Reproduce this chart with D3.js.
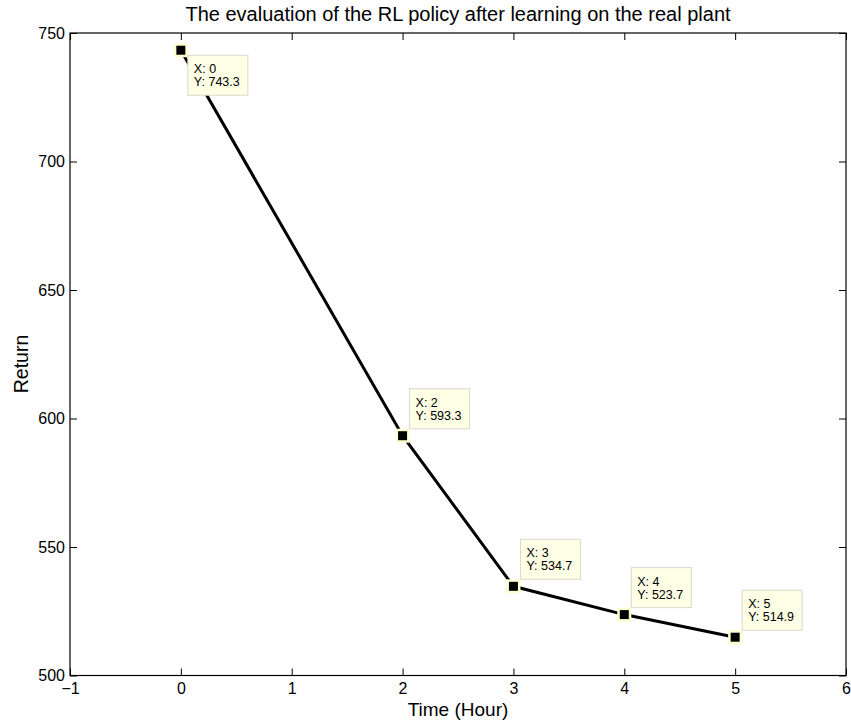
<!DOCTYPE html>
<html>
<head>
<meta charset="utf-8">
<script src="https://cdn.jsdelivr.net/npm/d3@7"></script>
<style>
  body { margin: 0; background: #fff; }
  svg text { font-family: "Liberation Sans", Arial, sans-serif; }
</style>
</head>
<body>
<div id="chart"></div>
<script>
// data
const hours = [0, 2, 3, 4, 5];
const returns = [743.3, 593.3, 534.7, 523.7, 514.9];
// datatip placement: +1 = below the point, -1 = above it
const tipSide = [1, -1, -1, -1, -1];
const xTicks = [-1, 0, 1, 2, 3, 4, 5, 6];
const yTicks = [500, 550, 600, 650, 700, 750];

const width = 851, height = 724;
const margin = { top: 33, right: 5, bottom: 48.5, left: 70 };

const svg = d3.select("#chart").append("svg")
    .attr("width", width)
    .attr("height", height)

const x = d3.scaleLinear().domain([-1, 6]).range([margin.left, width - margin.right]);
const y = d3.scaleLinear().domain([500, 750]).range([height - margin.bottom, margin.top]);

const tick = 7;
const tickFont = 16;

// frame
svg.append("rect")
    .attr("x", x(-1)).attr("y", y(750))
    .attr("width", x(6) - x(-1)).attr("height", y(500) - y(750))
    .attr("fill", "none").attr("stroke", "#000").attr("stroke-width", 1.2)

// bottom + top axes (ticks point inward)
svg.append("g")
    .attr("transform", `translate(0,${y(500)})`)
    .call(d3.axisBottom(x).tickValues(xTicks).tickSize(-tick).tickPadding(7)
        .tickFormat(d => d < 0 ? "\u2212" + Math.abs(d) : d))
    .call(g => g.select(".domain").remove())
    .call(g => g.selectAll("text").attr("font-size", tickFont).attr("fill", "#000"))

svg.append("g")
    .attr("transform", `translate(0,${y(750)})`)
    .call(d3.axisTop(x).tickValues(xTicks).tickSize(-tick).tickFormat(""))
    .call(g => g.select(".domain").remove())

svg.append("g")
    .attr("transform", `translate(${x(-1)},0)`)
    .call(d3.axisLeft(y).tickValues(yTicks).tickSize(-tick).tickPadding(5))
    .call(g => g.select(".domain").remove())
    .call(g => g.selectAll("text").attr("font-size", tickFont).attr("fill", "#000"))

svg.append("g")
    .attr("transform", `translate(${x(6)},0)`)
    .call(d3.axisRight(y).tickValues(yTicks).tickSize(-tick).tickFormat(""))
    .call(g => g.select(".domain").remove())

// labels
svg.append("text")
    .attr("x", (x(-1) + x(6)) / 2).attr("y", 21)
    .attr("text-anchor", "middle").attr("font-size", 20)
    .text("The evaluation of the RL policy after learning on the real plant")

svg.append("text")
    .attr("x", (x(-1) + x(6)) / 2).attr("y", 716)
    .attr("text-anchor", "middle").attr("font-size", 19)
    .text("Time (Hour)")

svg.append("text")
    .attr("transform", `translate(28,364) rotate(-90)`)
    .attr("text-anchor", "middle").attr("font-size", 19.5)
    .text("Return")

// line
const pts = hours.map((h, i) => ({ h, r: returns[i], side: tipSide[i] }));
const line = d3.line().x(d => x(d.h)).y(d => y(d.r));

svg.append("path")
    .datum(pts)
    .attr("d", line)
    .attr("fill", "none").attr("stroke", "#000").attr("stroke-width", 3)

// markers with datatip halo
const marks = svg.append("g").selectAll("g").data(pts).join("g")
    .attr("transform", d => `translate(${x(d.h)},${y(d.r)})`)

marks.append("rect")
    .attr("x", -7).attr("y", -7).attr("width", 14).attr("height", 14)
    .attr("fill", "#ffffd0")
marks.append("rect")
    .attr("x", -4.5).attr("y", -4.5).attr("width", 9).attr("height", 9)
    .attr("fill", "#000")

// datatips
const tipW = 60, tipH = 40;
const tips = svg.append("g").selectAll("g").data(pts).join("g")
    .attr("transform", d => {
        const tx = x(d.h) + 7;
        const ty = d.side > 0 ? y(d.r) + 5 : y(d.r) - 7 - tipH;
        return `translate(${tx},${ty})`;
    })

tips.append("rect")
    .attr("width", tipW).attr("height", tipH)
    .attr("fill", "#ffffe6").attr("stroke", "#d8d8cc").attr("stroke-width", 1)

tips.append("text")
    .attr("x", 6).attr("y", 18).attr("font-size", 12.5)
    .text(d => "X: " + d.h)
tips.append("text")
    .attr("x", 6).attr("y", 31).attr("font-size", 12.5)
    .text(d => "Y: " + d.r.toFixed(1))
</script>
</body>
</html>
